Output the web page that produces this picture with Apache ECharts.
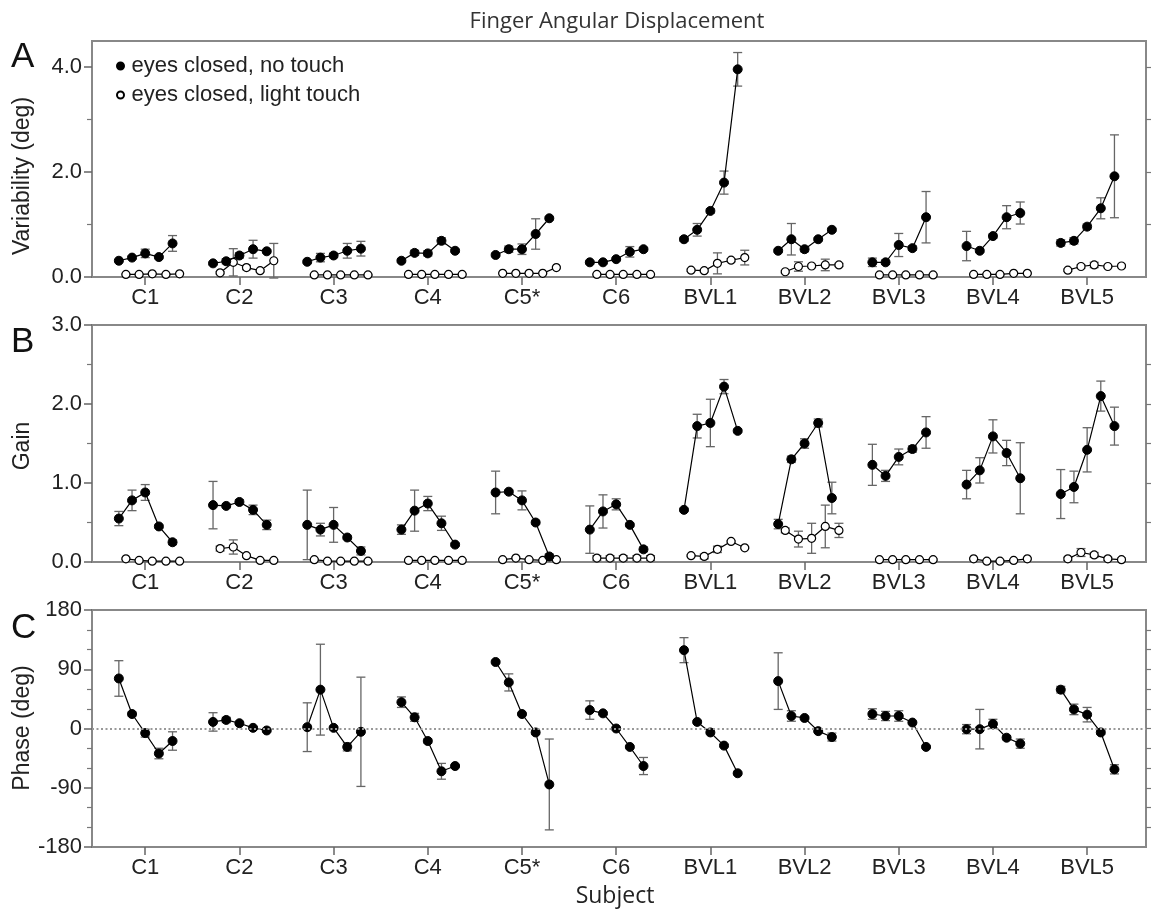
<!DOCTYPE html>
<html>
<head>
<meta charset="utf-8">
<script src="https://cdn.jsdelivr.net/npm/echarts@6.0.0/dist/echarts.min.js"></script>
<style>
html,body{margin:0;padding:0;background:#fff;}
#chart{width:1152px;height:916px;}
</style>
</head>
<body>
<div id="chart"></div>
<script>
// ---------------- DATA ----------------
const subjects = ['C1','C2','C3','C4','C5*','C6','BVL1','BVL2','BVL3','BVL4','BVL5'];
const seriesNames = ['eyes closed, no touch', 'eyes closed, light touch'];

// Panel A: Variability (deg)
const varNoTouch = [
  [0.31,0.37,0.45,0.38,0.64],[0.26,0.30,0.41,0.53,0.49],[0.29,0.37,0.41,0.50,0.54],
  [0.31,0.46,0.45,0.69,0.50],[0.42,0.53,0.53,0.82,1.12],[0.28,0.28,0.34,0.48,0.53],
  [0.72,0.90,1.26,1.80,3.96],[0.50,0.72,0.53,0.72,0.90],[0.28,0.28,0.61,0.55,1.14],
  [0.59,0.50,0.78,1.14,1.22],[0.65,0.69,0.96,1.31,1.92]
];
const varNoTouchErr = [
  [0.02,0.03,0.08,0.03,0.15],[0.03,0.05,0.05,0.17,0.03],[0.03,0.08,0.04,0.14,0.14],
  [0.03,0.05,0.05,0.06,0.03],[0.03,0.06,0.10,0.29,0.03],[0.03,0.03,0.03,0.10,0.03],
  [0.04,0.12,0.04,0.22,0.32],[0.03,0.30,0.05,0.03,0.03],[0.08,0.04,0.22,0.04,0.49],
  [0.28,0.03,0.04,0.22,0.21],[0.06,0.06,0.05,0.20,0.79]
];
const varLightTouch = [
  [0.05,0.05,0.06,0.05,0.06],[0.08,0.28,0.18,0.12,0.31],[0.04,0.04,0.04,0.04,0.04],
  [0.05,0.05,0.05,0.05,0.05],[0.07,0.07,0.07,0.07,0.18],[0.05,0.05,0.05,0.05,0.05],
  [0.13,0.12,0.26,0.32,0.37],[0.10,0.20,0.21,0.23,0.23],[0.04,0.04,0.04,0.04,0.04],
  [0.05,0.05,0.05,0.07,0.07],[0.13,0.20,0.23,0.20,0.21]
];
const varLightTouchErr = [
  [0.01,0.01,0.01,0.01,0.01],[0.02,0.26,0.04,0.02,0.33],[0.01,0.01,0.01,0.01,0.01],
  [0.01,0.01,0.01,0.01,0.01],[0.01,0.01,0.01,0.01,0.02],[0.01,0.01,0.01,0.01,0.01],
  [0.02,0.02,0.20,0.03,0.14],[0.02,0.09,0.03,0.11,0.03],[0.01,0.01,0.01,0.01,0.01],
  [0.01,0.01,0.01,0.01,0.01],[0.02,0.03,0.05,0.02,0.03]
];

// Panel B: Gain
const gainNoTouch = [
  [0.55,0.78,0.88,0.45,0.25],[0.72,0.71,0.76,0.66,0.47],[0.47,0.41,0.47,0.31,0.14],
  [0.41,0.65,0.74,0.49,0.22],[0.88,0.89,0.78,0.50,0.07],[0.41,0.64,0.73,0.47,0.16],
  [0.66,1.72,1.76,2.22,1.66],[0.48,1.30,1.50,1.76,0.81],[1.23,1.09,1.33,1.43,1.64],
  [0.98,1.16,1.59,1.38,1.06],[0.86,0.95,1.42,2.10,1.72]
];
const gainNoTouchErr = [
  [0.09,0.13,0.10,0.02,0.03],[0.30,0.02,0.03,0.06,0.06],[0.44,0.08,0.22,0.02,0.05],
  [0.06,0.26,0.09,0.09,0.02],[0.27,0.02,0.12,0.02,0.03],[0.30,0.21,0.07,0.02,0.03],
  [0.02,0.15,0.30,0.09,0.02],[0.06,0.04,0.06,0.05,0.20],[0.26,0.07,0.10,0.04,0.20],
  [0.18,0.16,0.21,0.16,0.45],[0.31,0.20,0.28,0.19,0.24]
];
const gainLightTouch = [
  [0.04,0.02,0.01,0.01,0.01],[0.17,0.19,0.08,0.02,0.02],[0.03,0.01,0.01,0.01,0.01],
  [0.02,0.02,0.02,0.02,0.02],[0.03,0.05,0.03,0.02,0.03],[0.05,0.05,0.05,0.05,0.05],
  [0.08,0.07,0.16,0.26,0.18],[0.40,0.29,0.30,0.45,0.40],[0.03,0.03,0.03,0.03,0.03],
  [0.04,0.01,0.01,0.02,0.04],[0.04,0.12,0.09,0.04,0.03]
];
const gainLightTouchErr = [
  [0.01,0.01,0.01,0.01,0.01],[0.03,0.09,0.02,0.01,0.01],[0.01,0.01,0.01,0.01,0.01],
  [0.01,0.01,0.01,0.01,0.01],[0.01,0.01,0.01,0.01,0.01],[0.03,0.03,0.03,0.03,0.03],
  [0.01,0.03,0.04,0.01,0.01],[0.03,0.10,0.19,0.27,0.09],[0.01,0.01,0.01,0.01,0.01],
  [0.01,0.01,0.01,0.01,0.01],[0.02,0.05,0.03,0.02,0.02]
];

// Panel C: Phase (deg)
const phaseNoTouch = [
  [76,22,-7,-38,-19],[10,13,8,1,-3],[2,59,1,-28,-5],[40,17,-19,-65,-57],
  [101,70,22,-6,-85],[28,23,0,-28,-57],[119,10,-6,-26,-68],[72,19,16,-4,-13],
  [22,19,19,9,-28],[-1,-1,7,-14,-23],[59,29,21,-6,-62]
];
const phaseNoTouchErr = [
  [27,3,6,8,14],[14,4,2,2,2],[37,69,2,6,83],[8,6,3,12,2],
  [2,13,2,3,69],[14,2,2,2,13],[19,2,2,2,2],[43,8,2,2,6],
  [8,7,8,2,2],[7,30,7,3,7],[5,8,11,3,7]
];

// Tick values
const subjectTicks = [0,1,2,3,4,5,6,7,8,9,10];
const varTicks = [0,2,4], varMinorTicks = [1,3], varRightTicks = [1,2,3,4];
const gainTicks = [0,1,2,3], gainMinorTicks = [0.5,1.5,2.5], gainRightTicks = [0.5,1,1.5,2,2.5];
const phaseTicks = [-180,-90,0,90,180], phaseMinorTicks = [-150,-120,-60,-30,30,60,120,150];
const phaseRightTicks = [-150,-120,-90,-60,-30,0,30,60,90,120,150];

// ---------------- LAYOUT / STYLE ----------------
const freqOffsets = [-0.28, -0.14, 0, 0.145, 0.29];
const openShift = 0.075;
const axisColor = '#888';
const labelFont = 'Liberation Sans, Arial, sans-serif';
const humanFont = 'Open Sans, Noto Sans, sans-serif';

const grids = [
  {left: 92, top: 41, width: 1054, height: 236},
  {left: 92, top: 325, width: 1054, height: 237},
  {left: 92, top: 610, width: 1054, height: 237}
].map(g => Object.assign(g, {show: true, borderColor: axisColor, borderWidth: 2, containLabel: false}));

function makeXAxis(gi) {
  return {
    type: 'value', gridIndex: gi, min: -0.565, max: 10.625,
    axisLine: {show: true, onZero: false, lineStyle: {color: axisColor, width: 2}},
    axisTick: {show: true, customValues: subjectTicks, length: 8, inside: false, lineStyle: {color: '#666', width: 1.5}},
    axisLabel: {show: true, customValues: subjectTicks, formatter: v => subjects[Math.round(v)],
      fontSize: 22, color: '#222', margin: 10, fontFamily: labelFont},
    splitLine: {show: false}
  };
}
function makeYAxes(gi, min, max, majors, minors, rights, fmt) {
  return [
    {type: 'value', gridIndex: gi, min, max, position: 'left',
     axisLine: {show: true, onZero: false, lineStyle: {color: axisColor, width: 2}},
     axisTick: {show: true, customValues: majors, length: 8, lineStyle: {color: '#666', width: 1.5}},
     axisLabel: {show: true, customValues: majors, formatter: fmt, fontSize: 22, color: '#222', margin: 10, fontFamily: labelFont},
     splitLine: {show: false}},
    {type: 'value', gridIndex: gi, min, max, position: 'left',
     axisLine: {show: false, onZero: false},
     axisTick: {show: true, customValues: minors, length: 5, lineStyle: {color: '#777', width: 1.2}},
     axisLabel: {show: false, customValues: minors},
     splitLine: {show: false}},
    {type: 'value', gridIndex: gi, min, max, position: 'right',
     axisLine: {show: true, onZero: false, lineStyle: {color: axisColor, width: 2}},
     axisTick: {show: true, customValues: rights, length: 5, lineStyle: {color: '#777', width: 1.2}},
     axisLabel: {show: false, customValues: rights},
     splitLine: {show: false}}
  ];
}

const xAxes = [makeXAxis(0), makeXAxis(1), makeXAxis(2)];
const yAxes = [].concat(
  makeYAxes(0, 0, 4.5, varTicks, varMinorTicks, varRightTicks, v => v.toFixed(1)),
  makeYAxes(1, 0, 3, gainTicks, gainMinorTicks, gainRightTicks, v => v.toFixed(1)),
  makeYAxes(2, -180, 180, phaseTicks, phaseMinorTicks, phaseRightTicks, v => String(v))
);

const series = [];

function errRender(params, api) {
  const x = api.value(0), lo = api.value(1), hi = api.value(2);
  const p1 = api.coord([x, hi]), p2 = api.coord([x, lo]);
  const h = 4.5;
  const st = {stroke: '#666', lineWidth: 1.3};
  return {type: 'group', children: [
    {type: 'line', shape: {x1: p1[0], y1: p1[1], x2: p2[0], y2: p2[1]}, style: st},
    {type: 'line', shape: {x1: p1[0]-h, y1: p1[1], x2: p1[0]+h, y2: p1[1]}, style: st},
    {type: 'line', shape: {x1: p2[0]-h, y1: p2[1], x2: p2[0]+h, y2: p2[1]}, style: st}
  ]};
}

function addCondition(panel, vals, errs, open) {
  const shift = open ? openShift : 0;
  const errData = [];
  vals.forEach((row, s) => {
    const data = row.map((v, k) => [s + freqOffsets[k] + shift, v]);
    row.forEach((v, k) => errData.push([s + freqOffsets[k] + shift, v - errs[s][k], v + errs[s][k]]));
    series.push({
      type: 'line', name: seriesNames[open ? 1 : 0],
      xAxisIndex: panel, yAxisIndex: panel * 3,
      data, symbol: 'circle', symbolSize: open ? 8 : 9,
      itemStyle: open ? {color: '#fff', borderColor: '#000', borderWidth: 1.2} : {color: '#000', borderColor: '#000', borderWidth: 1},
      lineStyle: {color: '#000', width: 1.2},
      z: open ? 3 : 4, animation: false
    });
  });
  series.push({
    type: 'custom', xAxisIndex: panel, yAxisIndex: panel * 3,
    data: errData, renderItem: errRender, encode: {x: 0, y: [1, 2]}, z: 2, silent: true
  });
}

addCondition(0, varNoTouch, varNoTouchErr, false);
addCondition(0, varLightTouch, varLightTouchErr, true);
addCondition(1, gainNoTouch, gainNoTouchErr, false);
addCondition(1, gainLightTouch, gainLightTouchErr, true);
addCondition(2, phaseNoTouch, phaseNoTouchErr, false);

// zero reference line in phase panel
series.push({
  type: 'line', xAxisIndex: 2, yAxisIndex: 6, data: [], z: 1,
  markLine: {silent: true, symbol: 'none', label: {show: false}, animation: false,
    lineStyle: {type: [2, 2.5], color: '#999', width: 2}, data: [{yAxis: 0}]}
});

const option = {
  animation: false,
  backgroundColor: '#fff',
  title: {text: 'Finger Angular Displacement', left: 612, top: 6, textAlign: 'center',
    textStyle: {fontFamily: humanFont, fontSize: 22, fontWeight: 'normal', color: '#333'}},
  legend: {
    data: seriesNames, orient: 'vertical', left: 111, top: 50, itemGap: 7,
    icon: 'circle', itemWidth: 12, itemHeight: 7,
    textStyle: {fontFamily: labelFont, fontSize: 22, color: '#222', lineHeight: 22}
  },
  grid: grids,
  xAxis: xAxes,
  yAxis: yAxes,
  series,
  graphic: [
    {type: 'text', left: 11, top: 40, style: {text: 'A', fontFamily: labelFont, fontSize: 35, fill: '#111'}},
    {type: 'text', left: 11, top: 325, style: {text: 'B', fontFamily: labelFont, fontSize: 35, fill: '#111'}},
    {type: 'text', left: 11, top: 611, style: {text: 'C', fontFamily: labelFont, fontSize: 35, fill: '#111'}},
    {type: 'text', x: 23, y: 176, rotation: Math.PI / 2,
      style: {text: 'Variability (deg)', fontFamily: labelFont, fontSize: 23, fill: '#222', align: 'center', verticalAlign: 'middle'}},
    {type: 'text', x: 23, y: 446, rotation: Math.PI / 2,
      style: {text: 'Gain', fontFamily: labelFont, fontSize: 23, fill: '#222', align: 'center', verticalAlign: 'middle'}},
    {type: 'text', x: 23, y: 728, rotation: Math.PI / 2,
      style: {text: 'Phase (deg)', fontFamily: labelFont, fontSize: 23, fill: '#222', align: 'center', verticalAlign: 'middle'}},
    {type: 'text', x: 615, y: 896,
      style: {text: 'Subject', fontFamily: humanFont, fontSize: 23, fill: '#222', align: 'center', verticalAlign: 'middle'}}
  ]
};

const chart = echarts.init(document.getElementById('chart'), null, {renderer: 'canvas'});
chart.setOption(option);
</script>
</body>
</html>
